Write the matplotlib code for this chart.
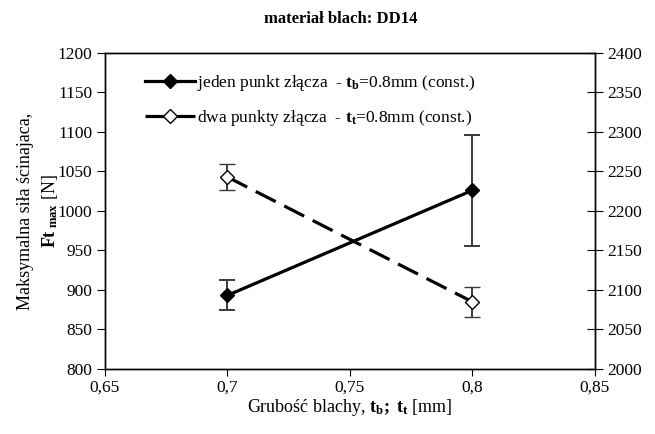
import matplotlib.pyplot as plt
from matplotlib.lines import Line2D

plt.rcParams["font.family"] = ["Liberation Serif", "DejaVu Serif"]
plt.rcParams["mathtext.fontset"] = "custom"
plt.rcParams["mathtext.rm"] = "Liberation Serif"
plt.rcParams["mathtext.bf"] = "Liberation Serif:bold"
plt.rcParams["mathtext.it"] = "Liberation Serif:italic"

# grubość blachy [mm]
x = [0.7, 0.8]

# jeden punkt złącza (lewa oś)
f1 = [893, 1026]
f1_err = [19, 70]

# dwa punkty złącza (prawa oś)
f2 = [2243, 2085]
f2_err = [17, 19]

xticks = [0.65, 0.7, 0.75, 0.8, 0.85]
xticklabels = ["0,65", "0,7", "0,75", "0,8", "0,85"]

lab1 = r"jeden punkt złącza  - $\mathbf{t_b}$=0.8mm (const.)"
lab2 = r"dwa punkty złącza  - $\mathbf{t_t}$=0.8mm (const.)"

fig = plt.figure(figsize=(6.55, 4.34), dpi=100)
ax1 = fig.add_axes([0.160, 0.150, 0.748, 0.728])
ax2 = ax1.twinx()

ecol = "#3a3a3a"
ax1.errorbar(x, f1, yerr=f1_err, color="black", lw=2.3, marker="D", ms=7,
             mfc="black", mec="black", ecolor=ecol, elinewidth=1.4,
             capsize=6, capthick=1.4, zorder=3)
ax2.errorbar(x, f2, yerr=f2_err, color="black", lw=2.3, marker="D", ms=7,
             mfc="white", mec="black", mew=1.0, ecolor=ecol, elinewidth=1.4,
             capsize=6, capthick=1.4, dashes=(7, 3), zorder=3)

ax1.set_xlim(0.65, 0.85)
ax1.set_ylim(800, 1200)
ax2.set_ylim(2000, 2400)
ax1.set_xticks(xticks)
ax1.set_xticklabels(xticklabels)
ax1.set_yticks(range(800, 1201, 50))
ax2.set_yticks(range(2000, 2401, 50))

ax1.tick_params(axis="x", direction="out", length=5, labelsize=12.5, pad=3)
ax1.tick_params(axis="y", direction="out", length=6, labelsize=12.5, pad=3)
ax2.tick_params(axis="y", direction="inout", length=12, labelsize=12.5, pad=3)

for sp in list(ax1.spines.values()) + list(ax2.spines.values()):
    sp.set_linewidth(1.0)

ax1.set_xlabel(r"Grubość blachy, $\mathbf{t_b;\ t_t}$ [mm]", fontsize=13, labelpad=1)
ax1.set_ylabel("Maksymalna siła ścinajaca,\n" + r"$\mathbf{Ft_{\ max}}$ [N]",
               fontsize=13, linespacing=1.35)
ax1.yaxis.set_label_coords(-0.092, 0.5)
fig.suptitle("materiał blach: DD14", fontsize=12, fontweight="bold",
             x=0.52, y=0.975)

# legenda bez słupków błędów
h1 = Line2D([], [], color="black", lw=2.3, marker="D", ms=7, mfc="black")
h2 = Line2D([], [], color="black", lw=2.3, marker="D", ms=7, mfc="white",
            mew=1.0, dashes=(7, 3))
ax2.legend([h1, h2], [lab1, lab2], loc="upper left",
           bbox_to_anchor=(0.05, 0.985), frameon=False, fontsize=12.5,
           handlelength=2.9, handletextpad=0.1, labelspacing=0.85)

fig.savefig("out.png", dpi=100)
